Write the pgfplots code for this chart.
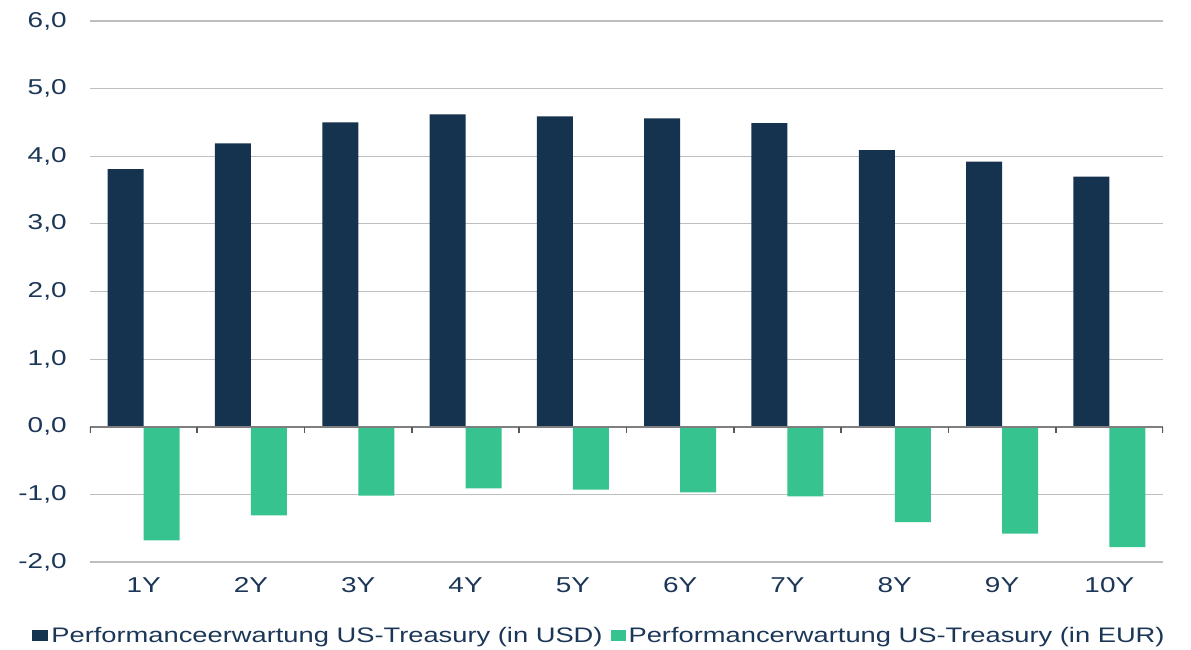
\documentclass[border=0pt]{standalone}
\usepackage{pgfplots}
\pgfplotsset{compat=1.18}
\usepackage{fontspec}
\setmainfont{Liberation Sans}[FakeStretch=1.3]
\definecolor{navy}{HTML}{15324F}
\definecolor{mint}{HTML}{37C38F}
\definecolor{txt}{HTML}{1B3656}
\definecolor{gridc}{HTML}{BEBEBE}
\definecolor{zeroc}{HTML}{7F7F7F}

\pgfplotstableread{
x usd eur
0 3.81 -1.68
1 4.19 -1.31
2 4.50 -1.02
3 4.62 -0.91
4 4.59 -0.93
5 4.56 -0.97
6 4.49 -1.03
7 4.09 -1.41
8 3.92 -1.58
9 3.70 -1.78
}\datatable

\begin{document}
\begin{tikzpicture}
\begin{axis}[
  scale only axis,
  width=536.5bp, height=270.5bp,
  xmin=-0.5, xmax=9.5, ymin=-2, ymax=6,
  axis line style={draw=none},
  major tick style={draw=none},
  ymajorgrids, grid style={gridc, line width=0.6bp},
  ytick={-2,-1,0,1,2,3,4,5,6},
  xtick={0,...,9},
  xticklabels={1Y,2Y,3Y,4Y,5Y,6Y,7Y,8Y,9Y,10Y},
  /pgf/number format/.cd, fixed, fixed zerofill, precision=1, use comma, assume math mode=true,
  /pgfplots/.cd,
  tick label style={font=\fontsize{10.75bp}{12bp}\selectfont, text=txt},
  yticklabel style={inner sep=0pt, anchor=east, xshift=-11.5bp},
  xticklabel style={inner sep=0pt, anchor=north, yshift=-7.5bp},
  legend columns=2,
  legend style={draw=none, fill=none, at={(1,-0.1368)}, anchor=east, xshift=5.5bp,
    font=\fontsize{10.5bp}{12bp}\selectfont, text=txt,
    nodes={inner sep=1.5bp},
    /tikz/every even column/.append style={column sep=2.5bp}},
]
\addplot[ybar, bar width=18bp, bar shift=-9bp, fill=navy, draw=none,
  legend image code/.code={\fill[navy] (0bp,-2.75bp) rectangle (8bp,2.75bp);}]
  table[x=x, y=usd] {\datatable};
\addlegendentry{Performanceerwartung US-Treasury (in USD)}
\addplot[ybar, bar width=18bp, bar shift=9bp, fill=mint, draw=none,
  legend image code/.code={\fill[mint] (0bp,-2.75bp) rectangle (7.5bp,2.75bp);}]
  table[x=x, y=eur] {\datatable};
\addlegendentry{Performancerwartung US-Treasury (in EUR)}
\draw[zeroc, line width=0.9bp] (axis cs:-0.5,0) -- (axis cs:9.5,0);
\pgfplotsinvokeforeach{0,...,10}{
  \draw[zeroc!70!black, line width=0.8bp] (axis cs:#1-0.5,0) -- ([yshift=-3bp]axis cs:#1-0.5,0);
}
\coordinate (bl) at (rel axis cs:0,0);
\coordinate (tr) at (rel axis cs:1,1);
\end{axis}
\pgfresetboundingbox
\path ([shift={(-45bp,-44bp)}]bl) rectangle ([shift={(14bp,10.5bp)}]tr);
\end{tikzpicture}
\end{document}
